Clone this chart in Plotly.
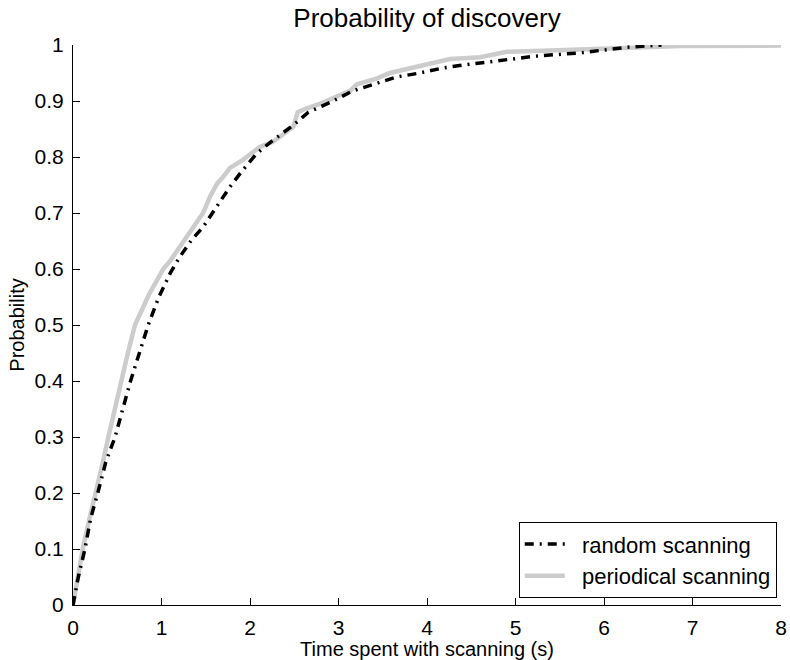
import plotly.graph_objects as go

# Random scanning (black dash-dot)
random_x = [0, 0.06, 0.135, 0.2, 0.28, 0.37, 0.475, 0.56, 0.65, 0.75, 0.85, 0.97, 1.1, 1.2, 1.34,
            1.47, 1.6, 1.68, 1.77, 1.9, 2.08, 2.26, 2.49, 2.66, 2.8, 2.94, 3.16, 3.43, 3.66, 3.92,
            4.18, 4.45, 4.71, 5.22, 5.73, 6.26, 6.65]
random_y = [0, 0.05, 0.1, 0.155, 0.2, 0.255, 0.3, 0.35, 0.4, 0.45, 0.5, 0.55, 0.593, 0.62, 0.652,
            0.675, 0.705, 0.725, 0.746, 0.773, 0.807, 0.83, 0.857, 0.88, 0.89, 0.9, 0.918, 0.932,
            0.943, 0.95, 0.959, 0.965, 0.97, 0.98, 0.986, 0.996, 1.0]

# Periodical scanning (gray solid)
periodic_x = [0, 0.05, 0.11, 0.18, 0.26, 0.33, 0.40, 0.47, 0.55, 0.62, 0.70, 0.78, 0.86, 0.95,
              1.02, 1.1, 1.24, 1.36, 1.47, 1.55, 1.63, 1.7, 1.77, 1.92, 2.11, 2.26, 2.42, 2.49,
              2.54, 2.64, 2.79, 2.95, 3.13, 3.21, 3.43, 3.58, 3.95, 4.26, 4.6, 4.9, 5.39, 6.0,
              6.86, 8.0]
periodic_y = [0, 0.05, 0.1, 0.15, 0.2, 0.25, 0.3, 0.35, 0.4, 0.45, 0.5, 0.53, 0.555, 0.58,
              0.6, 0.615, 0.646, 0.675, 0.70, 0.73, 0.753, 0.765, 0.78, 0.795, 0.818, 0.827,
              0.845, 0.854, 0.88, 0.887, 0.895, 0.905, 0.918, 0.93, 0.94, 0.95, 0.963, 0.975,
              0.978, 0.988, 0.99, 0.993, 0.998, 0.999]

x_ticks = [0, 1, 2, 3, 4, 5, 6, 7, 8]
y_ticks = [0, 0.1, 0.2, 0.3, 0.4, 0.5, 0.6, 0.7, 0.8, 0.9, 1]
y_tick_text = ["0", "0.1", "0.2", "0.3", "0.4", "0.5", "0.6", "0.7", "0.8", "0.9", "1"]

FONT = "Liberation Sans, Arial, Helvetica, sans-serif"

fig = go.Figure()
fig.add_trace(go.Scatter(
    x=periodic_x, y=periodic_y, mode="lines", name="\u00a0\u00a0periodical scanning",
    line=dict(color="#cccccc", width=4.5),
))
fig.add_trace(go.Scatter(
    x=random_x, y=random_y, mode="lines", name="\u00a0\u00a0random scanning",
    line=dict(color="black", width=3.5, dash="9px,6px,2px,6px"),
))

axis_common = dict(
    showgrid=False, zeroline=False, showline=True, linecolor="black", linewidth=1,
    ticks="inside", ticklen=7, tickcolor="black", tickwidth=1, mirror=False,
    automargin=False,
    tickfont=dict(family=FONT, size=21, color="black"),
)

fig.update_layout(
    width=790, height=660,
    margin=dict(l=73, r=9, t=45, b=55),
    paper_bgcolor="white", plot_bgcolor="white",
    font=dict(family=FONT, color="black"),
    title=dict(text="Probability of discovery", x=0.5, xanchor="center",
               y=1 - 18 / 660, yanchor="middle", xref="paper",
               font=dict(family=FONT, size=26, color="black")),
    xaxis=dict(range=[0, 8], tickvals=x_ticks, ticklabelstandoff=4,
               title=dict(text="Time spent with scanning (s)", standoff=2,
                          font=dict(family=FONT, size=20, color="black")),
               **axis_common),
    yaxis=dict(range=[0, 1], tickvals=y_ticks, ticktext=y_tick_text, ticklabelstandoff=4,
               title=dict(text="Probability", standoff=4,
                          font=dict(family=FONT, size=20, color="black")),
               **axis_common),
    showlegend=True,
    legend=dict(x=0.994, y=0.012, xanchor="right", yanchor="bottom",
                bgcolor="white", bordercolor="black", borderwidth=1,
                traceorder="reversed", itemwidth=40,
                font=dict(family=FONT, size=22, color="black")),
)

fig.write_html(
    "out.html",
    config={"displayModeBar": False},
    post_script="document.body.style.margin='0';document.body.style.overflow='hidden';",
)
